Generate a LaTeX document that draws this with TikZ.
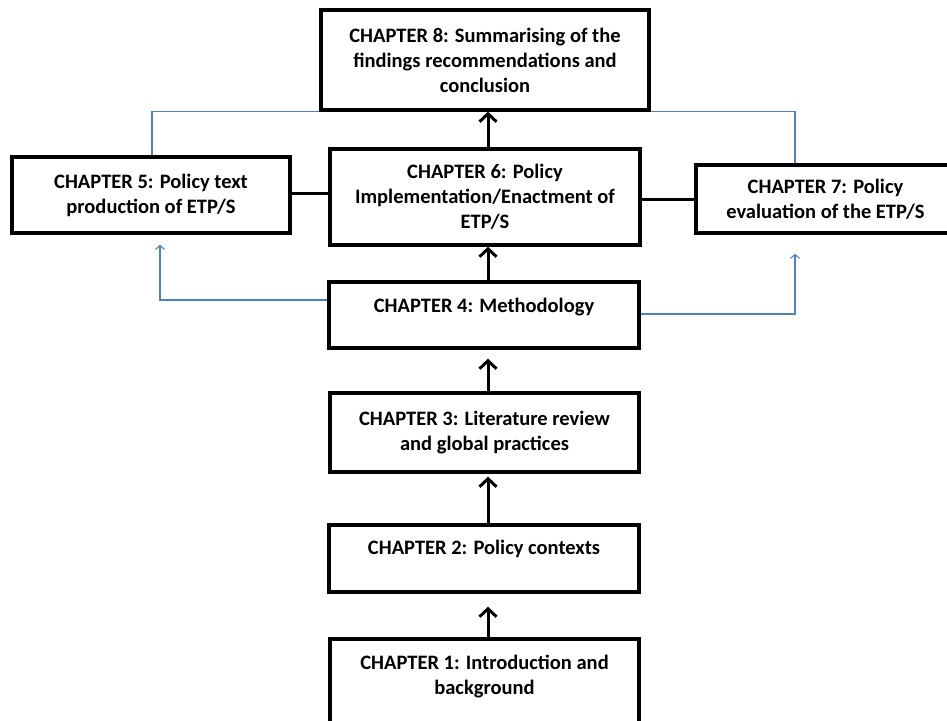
\documentclass[tikz,border=0pt]{standalone}
\usepackage{fontspec}
\setmainfont{Carlito}
\usetikzlibrary{arrows.meta,calc}
\definecolor{linkblue}{RGB}{79,129,189}
% invisible rule that deepens a line, so that the text sits in the upper part of its box
\newcommand\tailspace[1]{\rule[-#1]{0pt}{0pt}}
\tikzset{
  chapbox/.style={draw=black, line width=3.4pt, fill=white, align=center,
    font=\fontsize{20.5}{25}\selectfont\bfseries, inner sep=0pt},
  uparrow/.style={draw=black, line width=3pt,
    -{Straight Barb[length=8pt,width=17pt,line width=3pt]}},
  joinline/.style={draw=black, line width=3pt},
  bluelink/.style={draw=linkblue, line width=1.1pt},
  bluearrow/.style={bluelink, -{Straight Barb[length=4pt,width=9pt,line width=1.1pt]}}
}
\begin{document}
\begin{tikzpicture}[x=1pt,y=-1pt]
\useasboundingbox (0,0) rectangle (947,720);

% chapter boxes
\node[chapbox, minimum width=328pt, minimum height=100pt] (ch8) at (485,60)
  {CHAPTER 8: Summarising of the\\findings recommendations and\\conclusion};
\node[chapbox, minimum width=310pt, minimum height=96pt] (ch6) at (485,197)
  {CHAPTER 6: Policy\\Implementation/Enactment of\\ETP/S};
\node[chapbox, minimum width=278pt, minimum height=76pt] (ch5) at (151,195)
  {CHAPTER 5: Policy text\\production of ETP/S};
\node[chapbox, minimum width=259pt, minimum height=68pt] (ch7) at (825.5,199)
  {CHAPTER 7: Policy\\evaluation of the ETP/S};
\node[chapbox, minimum width=310pt, minimum height=66pt] (ch4) at (484,315)
  {CHAPTER 4: Methodology\tailspace{20pt}};
\node[chapbox, minimum width=309pt, minimum height=79pt] (ch3) at (484.5,432.5)
  {CHAPTER 3: Literature review\\and global practices};
\node[chapbox, minimum width=310pt, minimum height=67pt] (ch2) at (484,558.5)
  {CHAPTER 2: Policy contexts\tailspace{22pt}};
\node[chapbox, minimum width=309pt, minimum height=96pt] (ch1) at (484.5,687)
  {CHAPTER 1: Introduction and\\background\tailspace{24pt}};

% vertical flow
\coordinate (axis) at (488,0);
\draw[uparrow] (ch6.north -| axis) -- (ch8.south -| axis);
\draw[uparrow] (ch4.north -| axis) -- (ch6.south -| axis);
\draw[uparrow, shorten >=9pt] (ch3.north -| axis) -- (ch4.south -| axis);
\draw[uparrow, shorten >=3pt] (ch2.north -| axis) -- (ch3.south -| axis);
\draw[uparrow, shorten >=13pt] (ch1.north -| axis) -- (ch2.south -| axis);

% side links of chapter 6
\draw[joinline] ($(ch5.east)+(0,-2)$) -- ($(ch5.east -| ch6.west)+(0,-2)$);
\draw[joinline] (ch7.west -| ch6.east) -- (ch7.west);

% blue links
\draw[bluelink] ($(ch5.north)+(1,0)$) |- (ch8.south west);
\draw[bluelink] (ch8.south east) -| ($(ch7.north)+(-30.5,0)$);
\draw[bluearrow] ($(ch4.west)+(0,-15)$) -| ($(ch5.south)+(9,10)$);
\draw[bluearrow] ($(ch4.east)+(0,-1)$) -| ($(ch7.south)+(-30.5,19)$);
\end{tikzpicture}
\end{document}
